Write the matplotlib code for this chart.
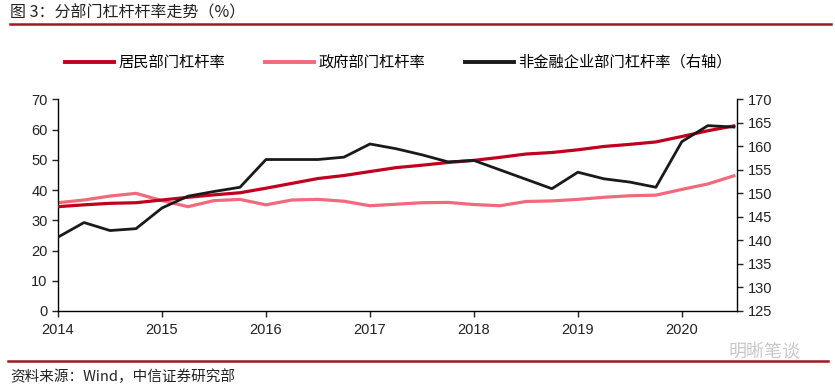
import numpy as np
import matplotlib
matplotlib.use("Agg")
import matplotlib.pyplot as plt
from matplotlib.lines import Line2D

plt.rcParams['font.family'] = ['Liberation Sans', 'Noto Sans CJK SC', 'DejaVu Sans']

# quarterly points, 2014Q1 .. 2020Q3 (placed on a fractional-year axis)
quarters = np.arange(2014, 2020.51, 0.25)

household = [34.5, 35.1, 35.6, 35.8, 36.7, 37.6, 38.4, 39.1, 40.6, 42.2, 43.8, 44.8,
             46.1, 47.4, 48.2, 49.1, 49.8, 50.8, 51.9, 52.4, 53.3, 54.4, 55.1, 55.9,
             57.7, 59.6, 61.2]
government = [35.8, 36.7, 38.0, 38.9, 36.5, 34.5, 36.5, 36.9, 35.1, 36.7, 36.9, 36.3,
              34.8, 35.3, 35.8, 35.9, 35.2, 34.8, 36.2, 36.4, 36.9, 37.6, 38.1, 38.3,
              40.2, 42.0, 44.7]
corporate = [140.7, 143.8, 142.1, 142.5, 146.9, 149.4, 150.4, 151.3, 157.2, 157.2, 157.2, 157.7,
             160.5, 159.5, 158.2, 156.7, 157.0, 155.0, 153.0, 151.0, 154.5, 153.1, 152.4, 151.3,
             161.0, 164.4, 164.1]

year_ticks = [2014, 2015, 2016, 2017, 2018, 2019, 2020]
labels = ['居民部门杠杆率', '政府部门杠杆率', '非金融企业部门杠杆率（右轴）']
colors = ['#C0001E', '#F06A7C', '#1A1A1A']

fig = plt.figure(figsize=(8.35, 3.9), dpi=100)
ax = fig.add_axes([0.0695, 0.2026, 0.8131, 0.5428])
ax2 = ax.twinx()

ax.plot(quarters, household, color=colors[0], lw=2.3, zorder=3)
ax.plot(quarters, government, color=colors[1], lw=2.3, zorder=2)
ax2.plot(quarters, corporate, color=colors[2], lw=2.0)

ax.set_xlim(2014, 2020.53)
ax.set_ylim(0, 70)
ax.set_yticks(range(0, 71, 10))
ax2.set_ylim(125, 170)
ax2.set_yticks(range(125, 171, 5))
ax.set_xticks(year_ticks)
ax.set_xticklabels([str(y) for y in year_ticks])

for a in (ax, ax2):
    a.spines['top'].set_visible(False)
    for s in a.spines.values():
        s.set_linewidth(1.0)
    a.tick_params(labelsize=10.5, length=4, width=1.0, colors='#222222')
ax.spines['right'].set_visible(False)
ax2.spines['left'].set_visible(False)
ax2.spines['bottom'].set_visible(False)
ax.tick_params(axis='x', pad=5)

handles = [Line2D([0], [0], color=c, lw=2.8) for c in colors]
fig.legend(handles, labels, loc='center', bbox_to_anchor=(0.477, 0.84), ncol=3, frameon=False,
           handlelength=3.2, handletextpad=0.3, columnspacing=2.6,
           prop={'family': ['Noto Sans CJK SC'], 'size': 11})

fig.text(0.012, 0.967, '图 3：分部门杠杆杆率走势（%）', fontsize=11.5,
         family=['Noto Sans CJK SC'], va='center', ha='left', color='#222222')
fig.add_artist(Line2D([0.012, 0.995], [0.938, 0.938], color='#9B1B20', lw=1.8))
fig.add_artist(Line2D([0.010, 0.992], [0.074, 0.074], color='#9B1B20', lw=1.8))
fig.text(0.012, 0.034, '资料来源：Wind，中信证券研究部', fontsize=10.5,
         family=['Noto Sans CJK SC'], va='center', ha='left', color='#222222')
fig.text(0.872, 0.097, '明晰笔谈', fontsize=13, family=['Noto Sans CJK SC'],
         va='center', ha='left', color='#BBBBBB', alpha=0.8)

fig.savefig('out.png', dpi=100)
